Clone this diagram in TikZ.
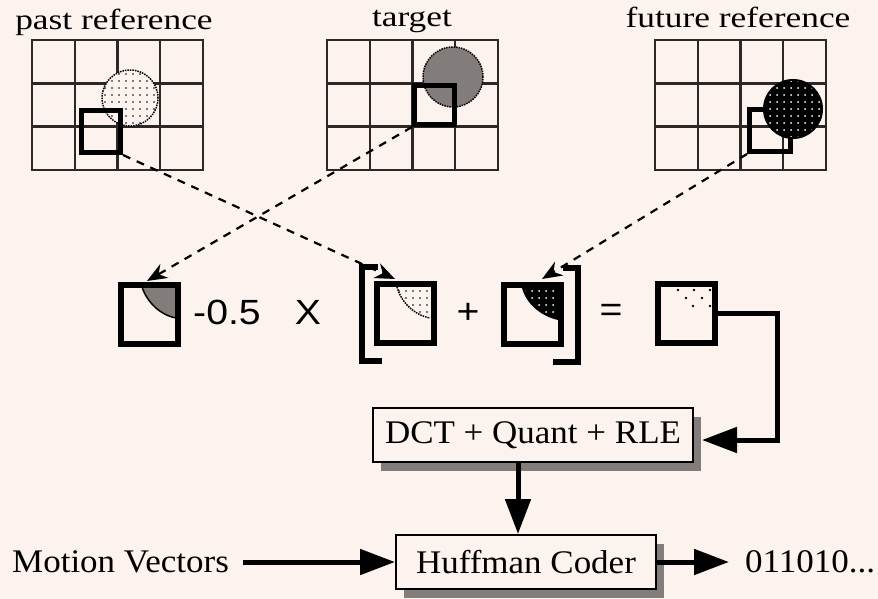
\documentclass[tikz,border=0pt]{standalone}
\usepackage{fontspec}
\setmainfont{Liberation Serif}
\newfontfamily\sansf[FakeStretch=1.12]{Liberation Sans}
\newfontfamily\lblf[FakeStretch=1.22]{Liberation Serif}
\newfontfamily\boxf[FakeStretch=1.06]{Liberation Serif}
\usetikzlibrary{arrows.meta,patterns.meta,shadows}
\definecolor{bg}{RGB}{253,243,238}
\definecolor{gridc}{RGB}{45,40,40}
\definecolor{checker}{RGB}{130,124,122}
\begin{document}
\begin{tikzpicture}[x=1pt,y=-1pt,
  gridline/.style={draw=gridc,line width=2.4pt},
  thicksq/.style={draw=black,line width=5pt,inner sep=0pt,fill=none},
  mbsq/.style={draw=black,line width=6pt,inner sep=0pt,minimum width=57pt,minimum height=59pt},
  toplabel/.style={font=\lblf\fontsize{29}{32}\selectfont,inner sep=0pt,anchor=base},
  optext/.style={font=\sansf\fontsize{35}{38}\selectfont,inner sep=0pt},
  procbox/.style={draw=black,line width=2pt,fill=bg,font=\boxf\fontsize{33}{36}\selectfont,inner sep=0pt,
     drop shadow={shadow xshift=8pt,shadow yshift=-9pt,fill=checker,opacity=1}},
  plaintext/.style={font=\boxf\fontsize{33}{36}\selectfont,inner sep=0pt},
  dasharrow/.style={draw=black,line width=2.2pt,dash pattern=on 8pt off 7pt,-{Stealth[length=20pt,width=16pt]}},
  bigarrow/.style={draw=black,line width=5pt,line join=miter,-{Triangle[length=35pt,width=25pt]}},
  bracketline/.style={draw=black,line width=6pt,line join=miter,line cap=butt},
  lightdots/.style={pattern={Dots[distance=7pt,radius=0.9pt]},pattern color=black},
  whitedots/.style={pattern={Dots[distance=7pt,radius=1pt]},pattern color=white}
]
\fill[bg] (0,0) rectangle (878,599);
\useasboundingbox (0,0) rectangle (878,599);

% grids
\foreach \gx in {32,327,655}{
  \draw[gridline] (\gx,40) rectangle ++(171,130);
  \foreach \i in {1,2,3} \draw[gridline] (\gx+\i*42.75,40) -- ++(0,130);
  \foreach \j in {1,2} \draw[gridline] (\gx,40+\j*43.33) -- ++(171,0);
}

% circles
\fill[bg] (130,98) circle (28pt);
\fill[lightdots] (130,98) circle (28pt);
\draw[black,line width=1.5pt,densely dotted] (130,98) circle (28pt);

\fill[checker] (453,77) circle (30pt);
\draw[black,line width=1.5pt,densely dotted] (453,77) circle (30pt);

% thick squares
\node[thicksq,minimum width=39pt,minimum height=42pt] (tp) at (101,131.5) {};
\node[thicksq,minimum width=40pt,minimum height=39pt] (tt) at (434.5,105) {};
\node[thicksq,minimum width=41pt,minimum height=42pt] (tf) at (770,130.5) {};

\fill[black] (793,109) circle (30pt);
\fill[whitedots] (793,109) circle (28pt);

% labels
\node[toplabel] (lp) at (114,30) {past reference};
\node[toplabel] (lt) at (412,27) {target};
\node[toplabel] (lf) at (738,28) {future reference};

% shaded corners
\fill[checker] (142,287) .. controls (147,302) and (160,315) .. (176,318) -- (176,287) -- cycle;
\draw[line width=1.5pt] (142,287) .. controls (147,302) and (160,315) .. (176,318);
\fill[lightdots] (397,287) .. controls (401,302) and (414,315) .. (430,318) -- (430,287) -- cycle;
\draw[line width=1.5pt,densely dotted] (397,287) .. controls (401,302) and (414,315) .. (430,318);
\fill[black] (522,288) .. controls (526,303) and (540,316) .. (558,320) -- (558,288) -- cycle;
\fill[whitedots] (525,289) .. controls (529,303) and (541,314) .. (557,317) -- (557,289) -- cycle;
\foreach \p in {(678,290),(694,290),(710,290),(686,298),(702,298),(693,306),(710,306)}
  \fill[black] \p circle (1.3pt);

% middle squares
\node[mbsq] (s1) at (149.5,314.5) {};
\node[mbsq] (s2) at (405,313.5) {};
\node[mbsq] (s3) at (532.5,314.5) {};
\node[mbsq] (s4) at (686,313) {};

% operators
\node[optext,anchor=base west] (m05) at (193,324) {-0.5};
\node[optext,anchor=base] (xx) at (308,324) {X};
\node[optext] (pl) at (468,313) {+};
\node[optext] (eq) at (611,313) {=};

% brackets
\draw[bracketline] (378,267) -| (361.5,360.5) -- (382,360.5);
\draw[bracketline] (563,268) -| (577.5,361.5) -- (553,361.5);

% dashed arrows
\coordinate (e1) at (147,281);
\coordinate (e2) at (395,279);
\coordinate (e3) at (542,279);
\draw[dasharrow] (tp.south east) -- (e2);
\draw[dasharrow] (tt.south west) -- (e1);
\draw[dasharrow] (tf.south west) -- (e3);

% process boxes
\node[procbox,minimum width=320pt,minimum height=54pt] (dct) at (533,435) {DCT + Quant + RLE};
\node[procbox,minimum width=260pt,minimum height=54pt] (huff) at (526,562) {Huffman Coder};
\node[plaintext,anchor=west] (mv) at (12,562) {Motion Vectors};
\node[plaintext,anchor=west] (out) at (745,562) {011010...};

% connectors
\coordinate (turn) at (777,313);
\draw[bigarrow] (s4.east) -- (turn) |- ([xshift=8pt,yshift=-5pt]dct.east);
\draw[bigarrow] ([xshift=-15pt]dct.south) -- ([xshift=-8pt]huff.north);
\draw[bigarrow,shorten <=14pt] (mv) -- (huff);
\draw[bigarrow,shorten >=16pt] (huff) -- (out);
\end{tikzpicture}
\end{document}
